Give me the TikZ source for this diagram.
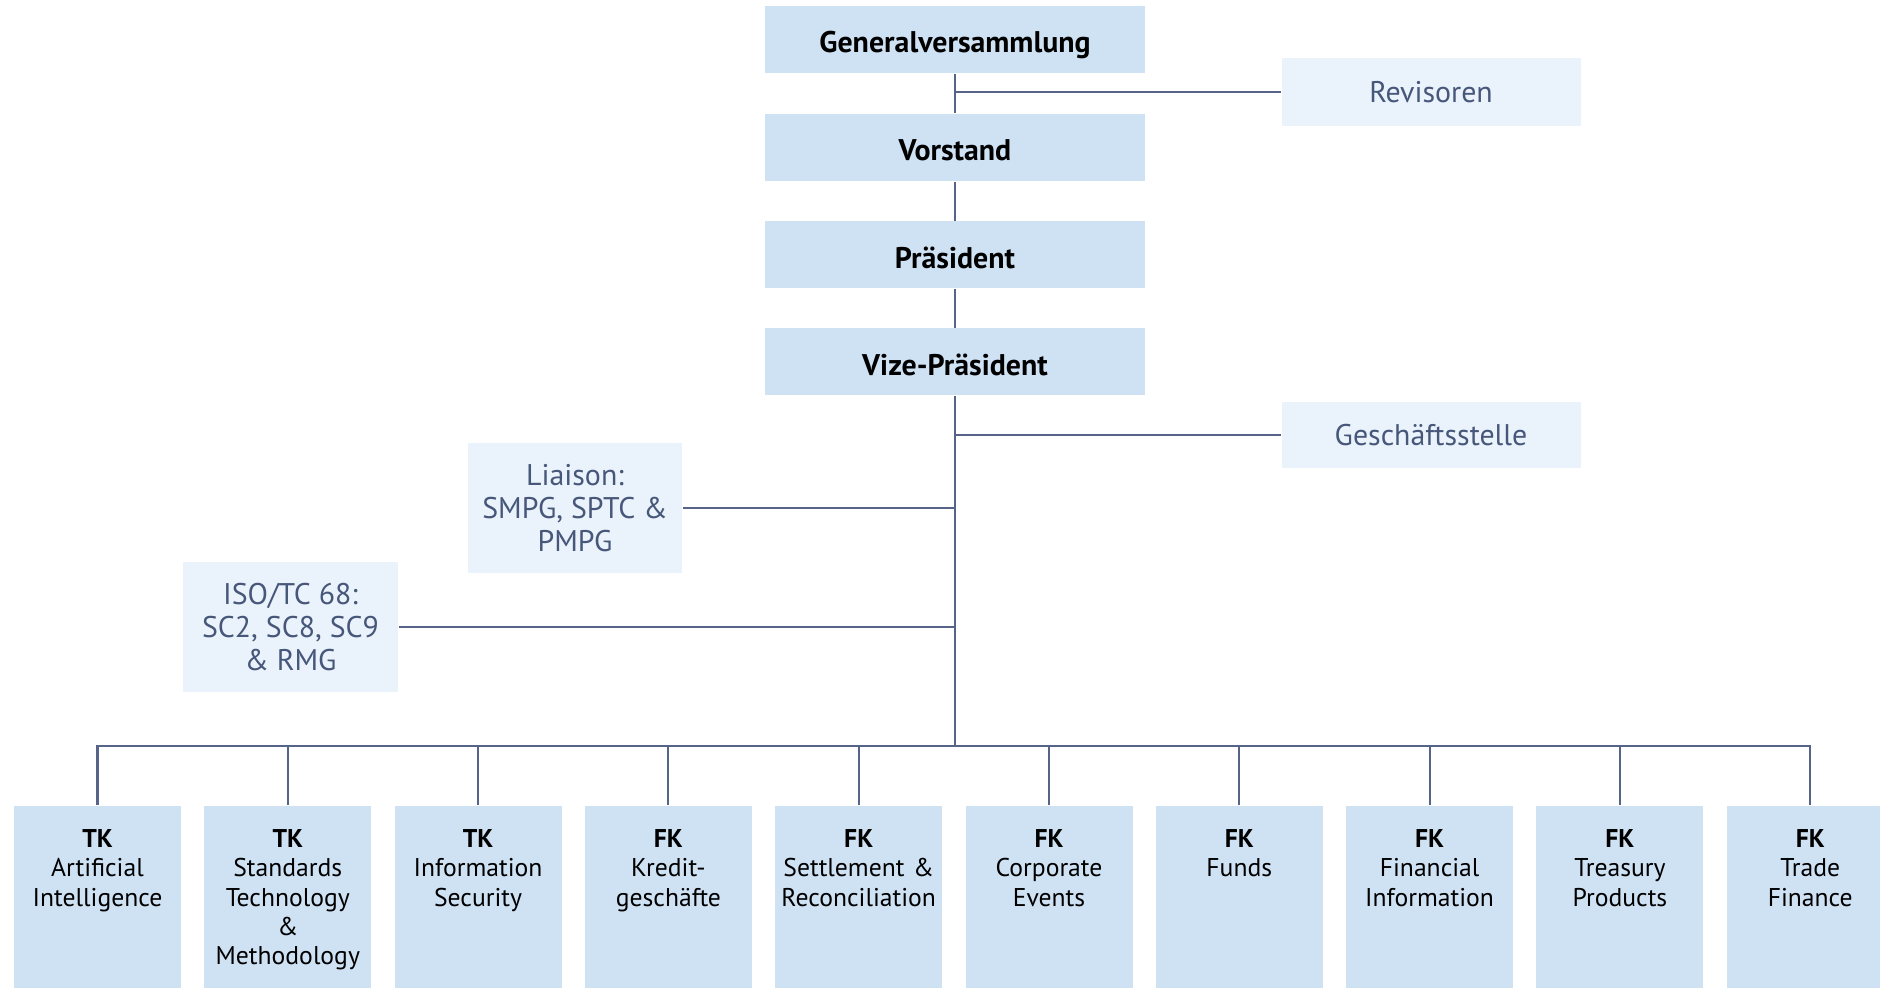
\documentclass[tikz,border=0pt]{standalone}
\usepackage{fontspec}
\setmainfont{PT Sans}

\definecolor{boxblue}{HTML}{CFE2F4}
\definecolor{paleblue}{HTML}{EAF2FB}
\definecolor{linegray}{HTML}{56648A}
\definecolor{textgray}{HTML}{47577A}

\tikzset{
  mainbox/.style={fill=boxblue, minimum width=3.8cm, minimum height=0.67cm,
    text height=0.32cm, text depth=0.05cm,
    font=\fontsize{8.5}{10}\selectfont\bfseries},
  sidebox/.style={fill=paleblue, text=textgray, align=center,
    font=\fontsize{8.5}{9.4}\selectfont},
  unitbox/.style={fill=boxblue, anchor=north, text width=1.67cm, inner xsep=0pt,
    inner ysep=0.12cm, text height=0.30cm, text depth=1.45cm, align=center,
    font=\fontsize{7.3}{8.3}\selectfont},
  conn/.style={draw=linegray, line width=0.6pt}
}

\begin{document}
\begin{tikzpicture}
    \useasboundingbox (0,0) rectangle (18.8,9.87);
    \clip (0,0) rectangle (18.8,9.87);

    % main line
    \node[mainbox] (gv) at (9.55,9.475) {Generalversammlung};
    \node[mainbox] (vorstand) at (9.55,8.395) {Vorstand};
    \node[mainbox] (praes) at (9.55,7.32) {Präsident};
    \node[mainbox] (vize) at (9.55,6.25) {Vize-Präsident};

    % side boxes
    \node[sidebox, minimum width=2.99cm, minimum height=0.68cm] (rev) at (14.31,8.95) {Revisoren};
    \node[sidebox, minimum width=2.99cm, minimum height=0.66cm] (gst) at (14.31,5.52) {Geschäftsstelle};
    \node[sidebox, minimum width=2.14cm, minimum height=1.30cm] (liaison) at (5.75,4.79) {Liaison:\\SMPG, SPTC \&\\PMPG};
    \node[sidebox, minimum width=2.15cm, minimum height=1.29cm] (iso) at (2.905,3.60) {ISO/TC 68:\\SC2, SC8, SC9\\\& RMG};

    % committees
    \node[unitbox] (b1) at (0.975,1.82) {\textbf{TK}\\Artificial\\Intelligence};
    \node[unitbox] (b2) at (2.878,1.82) {\textbf{TK}\\Standards\\Technology\\\&\\Methodology};
    \node[unitbox] (b3) at (4.781,1.82) {\textbf{TK}\\Information\\Security};
    \node[unitbox] (b4) at (6.684,1.82) {\textbf{FK}\\Kredit-\\geschäfte};
    \node[unitbox] (b5) at (8.587,1.82) {\textbf{FK}\\Settlement \&\\Reconciliation};
    \node[unitbox] (b6) at (10.49,1.82) {\textbf{FK}\\Corporate\\Events};
    \node[unitbox] (b7) at (12.393,1.82) {\textbf{FK}\\Funds};
    \node[unitbox] (b8) at (14.296,1.82) {\textbf{FK}\\Financial\\Information};
    \node[unitbox] (b9) at (16.199,1.82) {\textbf{FK}\\Treasury\\Products};
    \node[unitbox] (b10) at (18.102,1.82) {\textbf{FK}\\Trade\\Finance};

    \coordinate (bus) at (9.55,2.41);

    \draw[conn] (gv) -- (vorstand) -- (praes) -- (vize) -- (bus);
    \draw[conn] (rev.west) -- (rev.west -| gv.south);
    \draw[conn] (gst.west) -- (gst.west -| vize.south);
    \draw[conn] (liaison.east) -- (liaison.east -| vize.south);
    \draw[conn] (iso.east) -- (iso.east -| vize.south);

    \draw[conn] (b1.north) -- (bus -| b1.north) -- (bus -| b10.north) -- (b10.north);
    \draw[conn] (b2.north) -- (bus -| b2.north)
      (b3.north) -- (bus -| b3.north)
      (b4.north) -- (bus -| b4.north)
      (b5.north) -- (bus -| b5.north)
      (b6.north) -- (bus -| b6.north)
      (b7.north) -- (bus -| b7.north)
      (b8.north) -- (bus -| b8.north)
      (b9.north) -- (bus -| b9.north);
  \end{tikzpicture}
\end{document}
